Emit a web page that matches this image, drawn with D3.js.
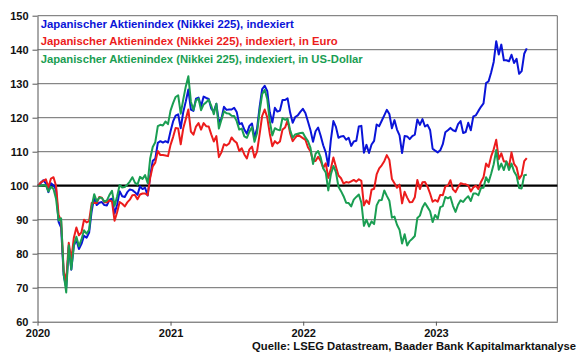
<!DOCTYPE html>
<html><head><meta charset="utf-8">
<script src="https://cdn.jsdelivr.net/npm/d3@7"></script>
<style>
body{margin:0;background:#fff}
text{font-family:"Liberation Sans",Arial,sans-serif;font-weight:bold}
</style>
</head><body>
<svg id="c" width="580" height="358"></svg>
<script>
// ---- data ----
const yTicks = [60,70,80,90,100,110,120,130,140,150];
const yearTicks = [2020,2021,2022,2023];
const seriesNames = [
  "Japanischer Aktienindex (Nikkei 225), indexiert",
  "Japanischer Aktienindex (Nikkei 225), indexiert, in Euro",
  "Japanischer Aktienindex (Nikkei 225), indexiert, in US-Dollar"
];
const sourceText = "Quelle: LSEG Datastream, Baader Bank Kapitalmarktanalyse";

// weekly values (Fridays), Jan 2020 .. Sep 2023
const blue = [
 // 2020
 100.0,100.8,101.6,100.7,98.1, 100.7,100.1,98.9,89.4, 87.7,73.7,70.0,82.0, 75.3,82.4,84.1,81.4,
 82.9,85.3,84.7,86.2,92.5, 96.6,94.3,95.0,95.2, 94.3,94.2,95.9,96.2,91.8, 94.4,98.4,96.9,96.7,
 98.1,98.9,98.7,98.1, 97.3,99.8,99.0,99.4,97.1, 102.8,107.3,107.9,112.6, 113.1,112.7,113.1,112.7,
 // 2021
 116.0,118.9,120.6,121.0,116.9, 121.7,124.8,128.3,122.4, 122.0,125.6,125.9,123.3, 126.2,125.8,125.5,122.7,121.8,
 124.1,118.7,119.7,123.2, 122.3,122.4,122.4,122.9, 121.7,118.1,118.4,116.5,115.3, 117.6,118.3,114.2,116.8,
 123.1,128.4,129.4,127.9, 121.6,118.6,122.9,121.8,122.1, 125.2,125.2,125.7,121.5, 118.5,120.2,120.7,121.7,122.6,
 // 2022
 121.4,118.9,116.3,112.9, 116.0,117.1,114.7,111.9, 109.8,105.8,113.4,119.0, 117.3,114.1,114.5,114.6,113.5,
 114.1,111.7,113.0,113.2, 117.4,117.6,109.7,112.0, 109.6,112.1,113.2,118.0,117.5, 119.1,120.7,122.3,121.1,
 116.9,119.3,116.5,114.8,109.6, 114.6,114.5,113.7,114.6, 115.0,119.5,117.9,119.6, 117.4,117.9,116.4,110.9,110.3,
 // 2023
 109.8,110.4,112.2,115.7, 116.3,117.0,116.3,116.0, 118.1,119.0,115.5,115.8,118.5, 116.3,120.4,120.7,122.0,
 123.2,124.2,130.2,130.7, 133.3,136.4,142.5,138.6,141.5, 136.9,136.9,136.6,138.5, 136.1,137.3,132.9,133.7,
 138.8,140.4
];
const red = [
 // 2020
 100.0,101.0,101.4,101.9,99.5, 102.1,102.5,100.0,91.4, 89.6,74.9,71.9,83.2, 78.3,84.7,87.7,85.4,
 86.3,90.0,89.2,89.6,94.9, 95.0,94.9,96.7,96.5, 95.1,95.1,95.7,95.3,89.7, 92.2,95.2,94.7,93.9,
 95.1,95.9,97.2,97.3, 96.0,97.4,97.7,97.7,97.2, 102.3,105.7,106.8,110.2, 109.0,109.0,108.9,108.7,
 // 2021
 112.0,114.3,117.0,116.8,112.2, 116.9,119.6,122.4,115.9, 115.0,117.4,118.4,116.5, 118.4,117.5,117.4,115.1,113.0,
 114.6,108.4,109.8,112.2, 111.8,112.4,114.2,113.2, 112.6,110.2,111.0,109.2,108.0, 110.7,111.5,108.3,110.0,
 115.1,120.5,122.4,120.1, 115.3,111.6,113.1,112.4,113.0, 116.5,117.1,119.2,115.4, 113.1,114.1,115.0,114.5,114.0,
 // 2022
 113.5,111.3,110.1,107.3, 107.3,108.5,107.3,105.2, 106.6,102.3,105.0,108.3, 105.6,103.0,102.2,100.6,101.1,
 100.9,101.3,101.7,101.2, 101.9,101.4,94.2,95.7, 94.6,98.8,99.1,103.3,105.1, 106.0,107.2,109.0,107.6,
 102.0,100.7,99.4,100.3,94.8, 98.2,96.5,95.1,95.2, 96.6,101.7,99.0,101.0, 101.1,99.7,97.7,95.3,95.8,
 // 2023
 95.3,97.3,97.2,99.8, 100.0,101.6,98.9,98.1, 99.6,100.7,100.5,100.4,100.1, 98.3,99.5,100.0,99.0,
 101.1,102.5,106.5,105.5, 108.6,110.7,113.5,107.8,109.5, 107.1,107.1,105.5,109.8, 106.4,105.4,102.0,103.1,
 107.2,108.1
];
const green = [
 // 2020
 100.0,100.0,100.2,100.1,98.3, 99.7,99.0,96.2,89.8, 90.4,74.1,68.6,82.5, 75.4,82.5,85.0,82.2,
 84.2,86.9,85.9,87.0,93.8, 97.5,95.4,96.5,96.4, 95.3,95.7,97.3,98.5,94.1, 96.8,100.2,99.5,99.6,
 100.3,101.2,102.5,100.9, 100.3,102.6,102.0,103.1,100.8, 108.0,111.4,112.8,117.5, 117.9,117.7,118.9,118.1,
 // 2021
 122.1,124.3,126.1,126.6,121.2, 125.4,129.2,132.2,124.7, 122.3,125.1,125.6,122.2, 123.9,124.5,125.3,123.5,121.0,
 124.1,116.8,119.4,121.9, 121.3,121.2,120.6,120.5, 119.0,116.5,116.8,114.5,114.1, 115.9,117.2,112.9,115.5,
 121.9,126.9,128.2,125.5, 119.0,114.8,116.9,116.5,116.3, 119.9,119.4,119.7,116.4, 114.1,115.1,115.3,115.5,115.6,
 // 2022
 114.2,113.1,111.1,106.4, 109.4,110.2,108.3,105.1, 103.9,98.6,103.3,105.8, 104.0,99.7,98.4,96.9,95.0,
 94.9,93.9,95.9,96.7, 97.4,95.0,88.2,90.0, 88.0,89.5,88.7,94.2,95.7, 95.8,98.6,97.0,95.6,
 90.6,90.9,88.5,87.0,83.0, 85.7,82.4,83.7,84.4, 85.2,90.5,91.2,93.6, 94.9,93.7,92.5,89.3,91.4,
 // 2023
 90.3,93.7,94.0,96.7, 96.3,96.7,94.1,92.3, 94.4,95.7,95.2,96.2,96.9, 95.5,97.7,97.7,97.2,
 99.3,99.4,102.5,101.0, 103.5,106.3,110.5,104.7,106.5, 104.6,107.1,104.6,106.5, 104.2,102.9,99.3,99.2,
 103.1,103.2
];

const colors = ["#0A14D8","#EC1C1C","#1A9E52"];
const seriesData = [blue, red, green];
const dates = d3.timeFriday.range(new Date(2020,0,3), new Date(2023,8,9));

// ---- layout ----
const svg = d3.select("#c");
svg.append("rect").attr("width",580).attr("height",358).attr("fill","#fff");
const L = 37.5, R = 557.3, T = 15.7, B = 321.7;
const x = d3.scaleTime().domain([new Date(2020,0,1), new Date(2023,11,1)]).range([L, R]);
const y = d3.scaleLinear().domain([60,150]).range([B, T]);

// gridlines
svg.append("g").selectAll("line").data(yTicks.filter(v => v !== 60 && v !== 100))
  .join("line")
  .attr("x1", L).attr("x2", R)
  .attr("y1", d => y(d)).attr("y2", d => y(d))
  .attr("stroke", "#6a6a6a").attr("stroke-width", 1);

// right border
svg.append("line").attr("x1", R).attr("x2", R).attr("y1", T).attr("y2", B)
  .attr("stroke", "#6a6a6a").attr("stroke-width", 1);

// 100 line
svg.append("line").attr("x1", L).attr("x2", R).attr("y1", y(100)).attr("y2", y(100))
  .attr("stroke", "#000").attr("stroke-width", 2.2);

// series
const line = d3.line().x((d,i) => x(dates[i])).y(d => y(d));
svg.append("g").selectAll("path").data(seriesData).join("path")
  .attr("d", d => line(d.slice(0, dates.length)))
  .attr("fill", "none")
  .attr("stroke", (d,i) => colors[i])
  .attr("stroke-width", 2)
  .attr("stroke-linejoin", "round");

// y axis
const yAxis = svg.append("g").attr("transform", `translate(${L},0)`)
  .call(d3.axisLeft(y).tickValues(yTicks).tickSize(5).tickPadding(4).tickSizeOuter(0));
yAxis.select(".domain").attr("stroke", "#555");
yAxis.selectAll(".tick line").attr("stroke", "#555");
yAxis.selectAll(".tick text").attr("font-size", 11).attr("fill", "#111")
  .attr("font-family", '"Liberation Sans",Arial,sans-serif').attr("font-weight", "bold");

// x axis
const xAxis = svg.append("g").attr("transform", `translate(0,${B})`)
  .call(d3.axisBottom(x).tickValues(yearTicks.map(yr => new Date(yr,0,1)))
    .tickFormat(d3.timeFormat("%Y")).tickSize(4).tickPadding(3.5).tickSizeOuter(0));
xAxis.select(".domain").attr("stroke", "#555");
xAxis.selectAll(".tick line").attr("stroke", "#555");
xAxis.selectAll(".tick text").attr("font-size", 11).attr("fill", "#111")
  .attr("font-family", '"Liberation Sans",Arial,sans-serif').attr("font-weight", "bold");

// legend
const legY = [27.7, 44.8, 63.0];
const legW = [253, 297, 322];
svg.append("g").selectAll("text").data(seriesNames).join("text")
  .attr("x", 40.7).attr("y", (d,i) => legY[i])
  .attr("font-size", 11.5)
  .attr("fill", (d,i) => colors[i])
  .attr("textLength", (d,i) => legW[i])
  .attr("lengthAdjust", "spacingAndGlyphs")
  .text(d => d);

// source
svg.append("text").attr("x", 576).attr("y", 350).attr("text-anchor", "end")
  .attr("font-size", 11).attr("fill", "#111")
  .attr("textLength", 324).attr("lengthAdjust", "spacingAndGlyphs")
  .text(sourceText);
</script>
</body></html>
